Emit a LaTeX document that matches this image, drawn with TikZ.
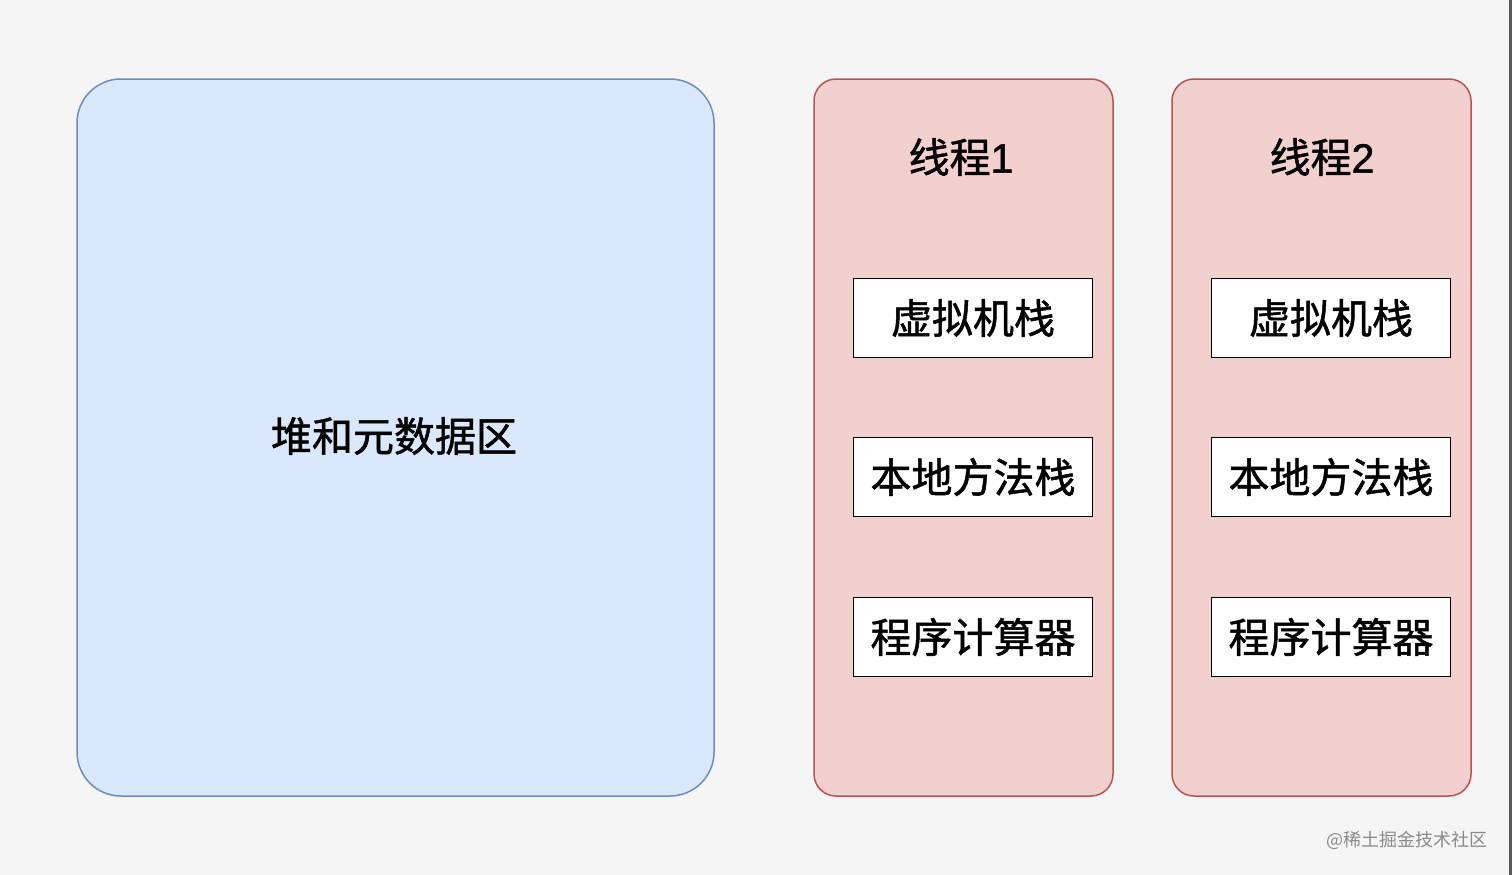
\documentclass[tikz,border=0pt]{standalone}
\usepackage{fontspec}
\setmainfont{Noto Sans CJK SC}[FakeBold=1.2]
\newfontfamily\wmfont{Noto Sans CJK SC}
\newfontfamily\latinf{Liberation Sans}[FakeBold=1.2]
\definecolor{bgc}{HTML}{F5F5F5}
\definecolor{bluefill}{HTML}{DAE8FC}
\definecolor{bluedraw}{HTML}{6C8EBF}
\definecolor{redfill}{HTML}{F2D0CE}
\definecolor{reddraw}{HTML}{B85450}
\definecolor{wm}{HTML}{8A8A8A}
\begin{document}
\begin{tikzpicture}[x=1pt,y=-1pt,
  heap/.style={draw=bluedraw,fill=bluefill,line width=1.5pt,rounded corners=44pt},
  thread/.style={draw=reddraw,fill=redfill,line width=1.5pt,rounded corners=22pt},
  part/.style={draw=black,fill=white,line width=1.8pt,minimum width=239pt,minimum height=79pt,inner sep=0pt,font=\fontsize{41}{44}\selectfont},
  title/.style={font=\fontsize{41}{44}\selectfont},
]
\useasboundingbox (0,0) rectangle (1512,875);
\fill[bgc] (0,0) rectangle (1512,875);
\fill[gray!70!black] (1509,0) rectangle (1512,875);
\draw[heap] (77,79) rectangle (714,796);
\node[title] (heapt) at (394,436) {堆和元数据区};
\draw[thread] (814,79) rectangle (1113,796);
\draw[thread] (1172,79) rectangle (1471,796);
\node[title] (t1) at (961,157) {线程{\latinf 1}};
\node[title] (t2) at (1322,157) {线程{\latinf 2}};
\node[part] (a1) at (973,318) {虚拟机栈};
\node[part] (b1) at (973,477) {本地方法栈};
\node[part] (c1) at (973,637) {程序计算器};
\node[part] (a2) at (1331,318) {虚拟机栈};
\node[part] (b2) at (1331,477) {本地方法栈};
\node[part] (c2) at (1331,637) {程序计算器};
\node[text=wm,font=\wmfont\fontsize{18}{20}\selectfont] (wmk) at (1407,840) {@稀土掘金技术社区};
\end{tikzpicture}
\end{document}
